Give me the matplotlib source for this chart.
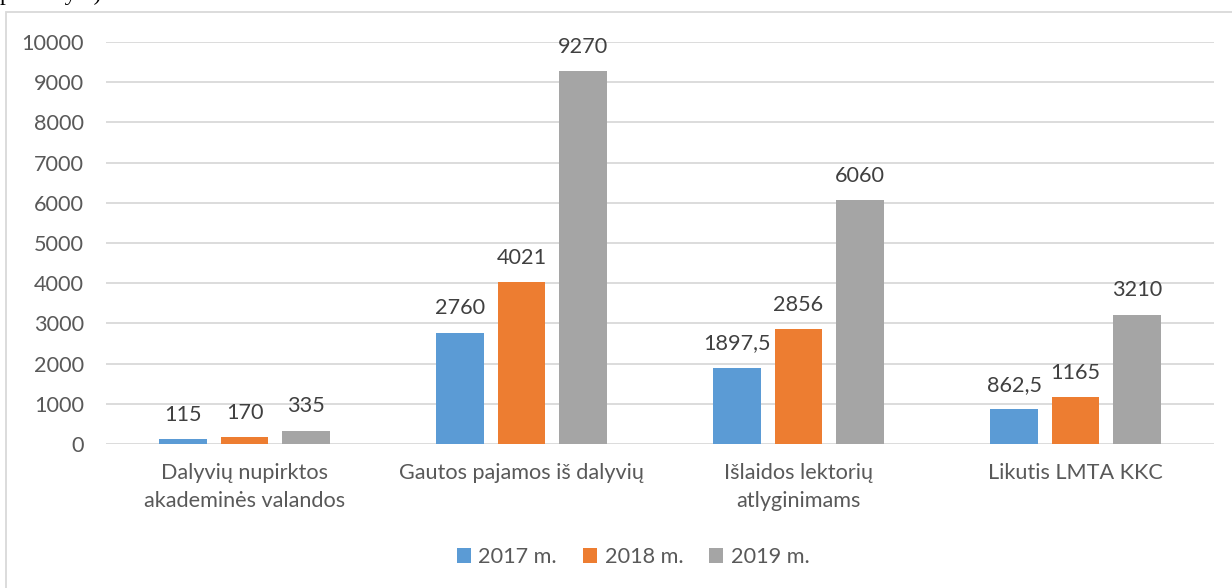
import matplotlib.pyplot as plt
import numpy as np
from matplotlib.patches import Rectangle

categories = ["Dalyvių nupirktos\nakademinės valandos", "Gautos pajamos iš dalyvių",
              "Išlaidos lektorių\natlyginimams", "Likutis LMTA KKC"]
series_names = ["2017 m.", "2018 m.", "2019 m."]
v2017 = [115, 2760, 1897.5, 862.5]
v2018 = [170, 4021, 2856, 1165]
v2019 = [335, 9270, 6060, 3210]
colors = ["#5B9BD5", "#ED7D31", "#A5A5A5"]

plt.rcParams['font.family'] = ['Lato', 'DejaVu Sans']
txt = "#595959"
fs = 15.6

fig = plt.figure(figsize=(12.32, 5.88), dpi=100)
ax = fig.add_axes([106/1232, 1-444/588, 1108/1232, 402/588])

# outer chart frame (runs off the right/bottom edge)
fig.patches.append(Rectangle((6/1232, -0.05), 1.1, 1-12/588+0.05, transform=fig.transFigure,
                             fill=False, edgecolor="#d9d9d9", lw=1.3))
# tail of the page text above the chart, cut by the crop
fig.text(0.0, 1.0, "pasirašyta).", family="Liberation Serif", fontsize=17, va="baseline", ha="left")

x = np.arange(len(categories))
off = 0.222
w = 0.17
for i, (vals, name) in enumerate(zip([v2017, v2018, v2019], series_names)):
    bars = ax.bar(x + (i-1)*off, vals, w, color=colors[i], label=name, zorder=3)
    for b, v in zip(bars, vals):
        lab = f"{v:g}".replace(".", ",")
        ax.annotate(lab, (b.get_x()+b.get_width()/2, v), xytext=(0, 10.5), textcoords="offset points",
                    ha="center", va="bottom", fontsize=fs, color="#404040")

ax.set_xlim(-0.5, 3.5)
ax.set_ylim(0, 10000)
ax.set_yticks(range(0, 10001, 1000))
ax.yaxis.grid(True, color="#d9d9d9", lw=1.3, zorder=0)
for s in ax.spines.values():
    s.set_visible(False)
ax.tick_params(axis="both", length=0, labelsize=fs, colors=txt)
ax.tick_params(axis="y", pad=16)
ax.tick_params(axis="x", pad=14)
ax.set_xticks(x)
ax.set_xticklabels(categories, linespacing=1.5)

ax.legend(loc="center", bbox_to_anchor=(0.514, 1-557/588), bbox_transform=fig.transFigure,
          ncol=3, frameon=False, fontsize=fs, labelcolor=txt, handlelength=0.65, handleheight=0.65,
          columnspacing=1.2, handletextpad=0.35)

fig.savefig("out.png")
